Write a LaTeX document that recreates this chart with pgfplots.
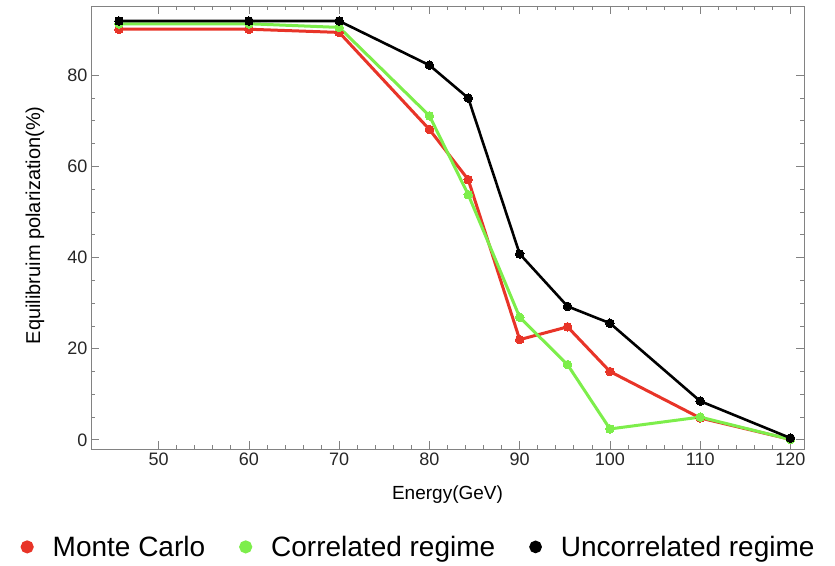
\documentclass[border=0pt]{standalone}
\usepackage{fontspec}
\setmainfont{Liberation Sans}
\usepackage{pgfplots}
\pgfplotsset{compat=1.18}
\definecolor{mred}{RGB}{232,52,40}
\definecolor{mgreen}{RGB}{125,238,75}
\definecolor{framegray}{RGB}{130,130,130}
\begin{document}
\begin{tikzpicture}[x=1pt,y=1pt]
\useasboundingbox (0,0) rectangle (835,565);
\begin{axis}[
  at={(91pt,116pt)}, anchor=south west,
  scale only axis, width=713pt, height=443pt,
  xmin=42.5, xmax=121.5, ymin=-2, ymax=95.2,
  xtick={50,60,...,120}, ytick={0,20,...,80},
  minor x tick num=4, minor y tick num=3,
  tick align=inside,
  major tick length=8pt, minor tick length=4.5pt,
  axis line style={framegray, line width=0.8pt},
  every tick/.style={framegray, line width=0.8pt},
  tick label style={font=\fontsize{18}{20}\selectfont, text=black!85},
  /pgf/number format/assume math mode=true,
  xlabel={Energy(GeV)}, ylabel={Equilibruim polarization(\%)},
  xlabel style={font=\fontsize{19}{21}\selectfont, at={(axis description cs:0.5,-0.104)}, anchor=center},
  ylabel style={font=\fontsize{20}{22}\selectfont, at={(axis description cs:-0.0785,0.505)}, anchor=center},
  legend columns=3,
  legend style={at={(axis description cs:0.4595,-0.221)}, anchor=center, draw=none, fill=none,
    font=\fontsize{28}{30}\selectfont,
    /tikz/every odd column/.append style={column sep=17pt},
    /tikz/every even column/.append style={column sep=32pt}},
  legend image code/.code={\fill[#1] (0pt,0pt) circle (5pt);},
  every axis plot/.append style={line width=3pt, mark=*, mark size=4.3pt},
]
\addplot[color=mred, mark options={fill=mred, draw=mred, line width=0pt}] coordinates {
 (45.6,90.1) (60,90.1) (70,89.4) (80,68.1) (84.3,57.1) (90,22.0) (95.3,24.8) (100,15.0) (110,4.8) (120,0.1)};
\addlegendentry{Monte Carlo}
\addplot[color=mgreen, mark options={fill=mgreen, draw=mgreen, line width=0pt}] coordinates {
 (45.6,91.3) (60,91.3) (70,90.5) (80,71.1) (84.3,53.8) (90,26.9) (95.3,16.5) (100,2.4) (110,5.0) (120,0.1)};
\addlegendentry{Correlated regime}
\addplot[color=black, line width=2.6pt, mark options={fill=black, draw=black, line width=0pt}] coordinates {
 (45.6,91.9) (60,91.9) (70,91.9) (80,82.2) (84.3,75.0) (90,40.8) (95.3,29.3) (100,25.6) (110,8.5) (120,0.4)};
\addlegendentry{Uncorrelated regime}
\end{axis}
\end{tikzpicture}
\end{document}
